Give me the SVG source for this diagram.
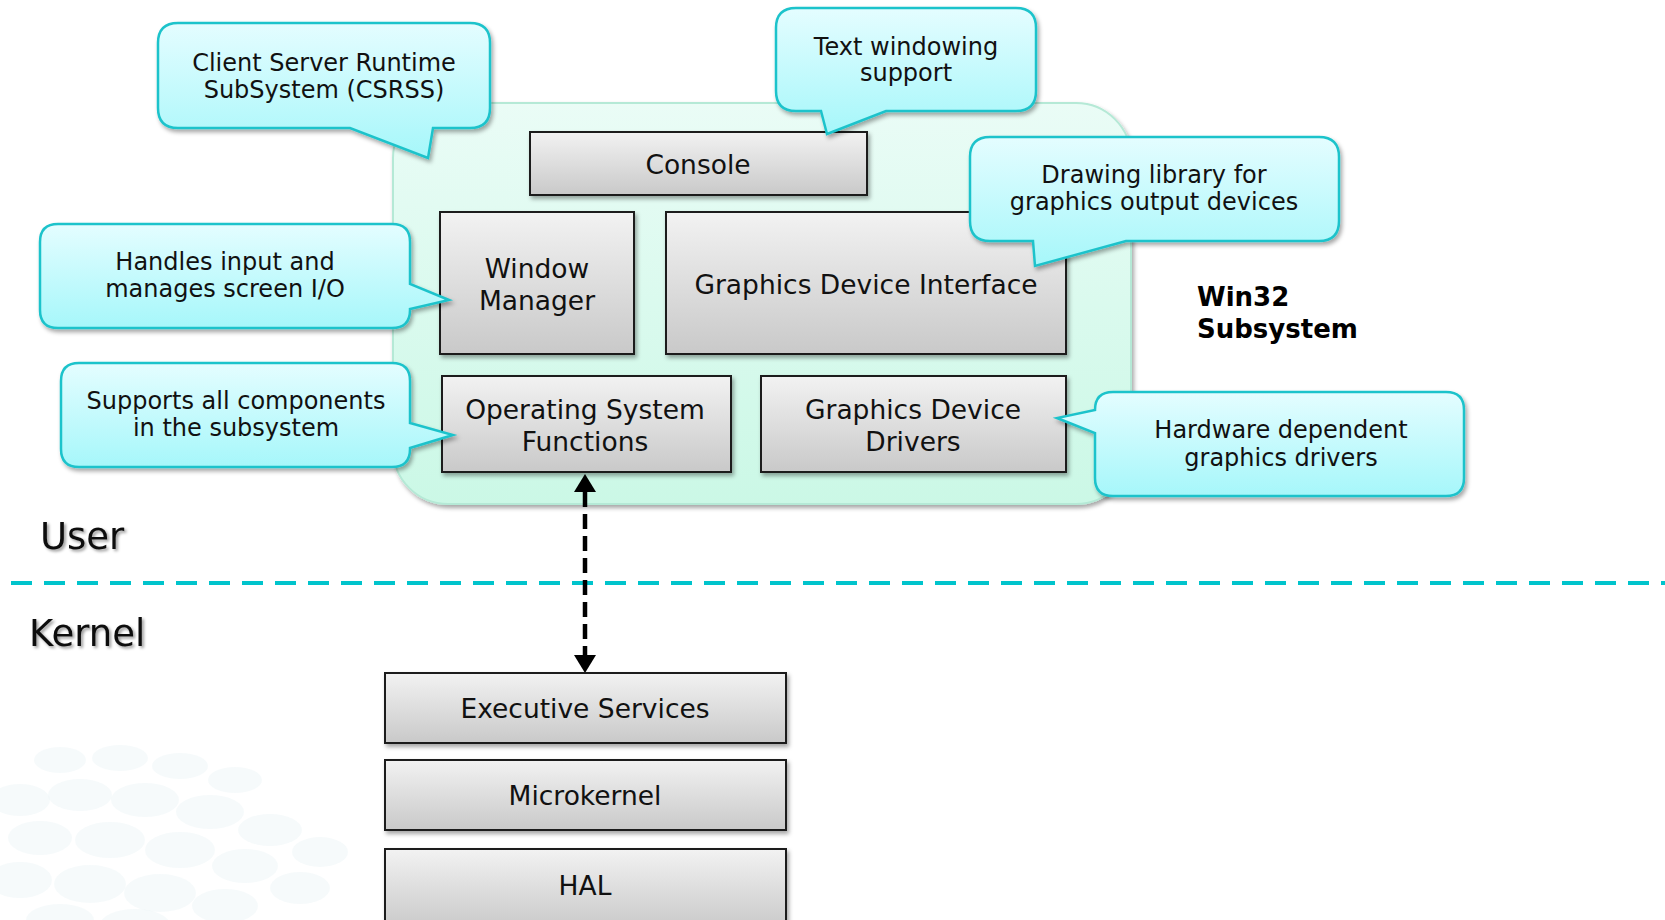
<svg xmlns="http://www.w3.org/2000/svg" width="1665" height="920" viewBox="0 0 1665 920">
<defs>
<linearGradient id="boxg" x1="0" y1="0" x2="0" y2="1"><stop offset="0" stop-color="#f2f2f2"/><stop offset="1" stop-color="#c9c9c9"/></linearGradient>
<linearGradient id="calg" x1="0" y1="0" x2="0" y2="1"><stop offset="0" stop-color="#e4fdff"/><stop offset="1" stop-color="#a6f7fa"/></linearGradient>
<linearGradient id="grng" x1="0" y1="0" x2="0" y2="1"><stop offset="0" stop-color="#eafcf6"/><stop offset="1" stop-color="#cbf8e6"/></linearGradient>
<filter id="sh" x="-10%" y="-10%" width="130%" height="140%"><feDropShadow dx="2" dy="3" stdDeviation="2" flood-color="#000" flood-opacity="0.35"/></filter>
<filter id="tsh" x="-10%" y="-10%" width="130%" height="140%"><feDropShadow dx="2" dy="2" stdDeviation="1.5" flood-color="#000" flood-opacity="0.4"/></filter>
<marker id="ah" viewBox="0 0 18 22" refX="0" refY="11" markerWidth="18" markerHeight="22" orient="auto-start-reverse" markerUnits="userSpaceOnUse"><path d="M0,0 L18,11 L0,22 Z" fill="#000"/></marker>
<style>
.box{fill:url(#boxg);stroke:#1a1a1a;stroke-width:2;filter:url(#sh)}
.cal{fill:url(#calg);stroke:#1ec3cb;stroke-width:2.5;filter:url(#sh)}
.bt{font-family:"DejaVu Sans",Verdana,sans-serif;font-size:26.5px;fill:#111;text-anchor:middle}
.ct{font-family:"DejaVu Sans",Verdana,sans-serif;font-size:24px;fill:#111;text-anchor:middle}
.lbl{font-family:"DejaVu Sans",Verdana,sans-serif;font-size:37px;fill:#111;filter:url(#tsh)}
.win{font-family:"DejaVu Sans",Verdana,sans-serif;font-size:26px;font-weight:bold;fill:#000}
.bg{fill:#e8f2f5;opacity:0.4}
</style>
</defs>
<rect width="1665" height="920" fill="#fff"/>
<g id="background">
<ellipse class="bg" cx="20" cy="800" rx="30" ry="16"/>
<ellipse class="bg" cx="80" cy="795" rx="32" ry="16"/>
<ellipse class="bg" cx="145" cy="800" rx="34" ry="17"/>
<ellipse class="bg" cx="210" cy="812" rx="34" ry="17"/>
<ellipse class="bg" cx="270" cy="830" rx="32" ry="16"/>
<ellipse class="bg" cx="320" cy="852" rx="28" ry="15"/>
<ellipse class="bg" cx="40" cy="838" rx="32" ry="17"/>
<ellipse class="bg" cx="110" cy="840" rx="35" ry="18"/>
<ellipse class="bg" cx="180" cy="850" rx="35" ry="18"/>
<ellipse class="bg" cx="245" cy="866" rx="33" ry="17"/>
<ellipse class="bg" cx="300" cy="888" rx="30" ry="16"/>
<ellipse class="bg" cx="20" cy="880" rx="32" ry="18"/>
<ellipse class="bg" cx="90" cy="884" rx="36" ry="19"/>
<ellipse class="bg" cx="160" cy="893" rx="36" ry="19"/>
<ellipse class="bg" cx="225" cy="906" rx="33" ry="17"/>
<ellipse class="bg" cx="60" cy="920" rx="34" ry="16"/>
<ellipse class="bg" cx="135" cy="925" rx="35" ry="16"/>
<ellipse class="bg" cx="60" cy="760" rx="26" ry="13"/>
<ellipse class="bg" cx="120" cy="758" rx="28" ry="13"/>
<ellipse class="bg" cx="180" cy="766" rx="28" ry="13"/>
<ellipse class="bg" cx="235" cy="780" rx="27" ry="13"/>
</g>
<g id="win32-container">
<rect x="393" y="103" width="738" height="401" rx="55" ry="55" fill="url(#grng)" stroke="#b5e9d6" stroke-width="2" filter="url(#sh)"/>
<text class="win" x="1197" y="306">Win32</text>
<text class="win" x="1197" y="338">Subsystem</text>
</g>
<g id="divider">
<line x1="11" y1="583" x2="1665" y2="583" stroke="#00c4cc" stroke-width="4" stroke-dasharray="21 12"/>
<text class="lbl" x="40" y="549">User</text>
<text class="lbl" x="29" y="646">Kernel</text>
</g>
<g id="connectors">
<line x1="585" y1="492" x2="585" y2="655" stroke="#000" stroke-width="4.5" stroke-dasharray="15 7" marker-start="url(#ah)" marker-end="url(#ah)"/>
</g>
<g id="console"><rect class="box" x="530" y="132" width="337" height="63"/><text class="bt" x="698" y="174">Console</text></g>
<g id="window-manager"><rect class="box" x="440" y="212" width="194" height="142"/><text class="bt" x="537" y="278">Window</text><text class="bt" x="537" y="310">Manager</text></g>
<g id="gdi"><rect class="box" x="666" y="212" width="400" height="142"/><text class="bt" x="866" y="294">Graphics Device Interface</text></g>
<g id="os-functions"><rect class="box" x="442" y="376" width="289" height="96"/><text class="bt" x="585" y="419">Operating System</text><text class="bt" x="585" y="451">Functions</text></g>
<g id="gdd"><rect class="box" x="761" y="376" width="305" height="96"/><text class="bt" x="913" y="419">Graphics Device</text><text class="bt" x="913" y="451">Drivers</text></g>
<g id="executive-services"><rect class="box" x="385" y="673" width="401" height="70"/><text class="bt" x="585" y="718">Executive Services</text></g>
<g id="microkernel"><rect class="box" x="385" y="760" width="401" height="70"/><text class="bt" x="585" y="805">Microkernel</text></g>
<g id="hal"><rect class="box" x="385" y="849" width="401" height="80"/><text class="bt" x="585" y="895">HAL</text></g>
<g id="callout-csrss"><path class="cal" d="M178,23 H470 Q490,23 490,43 V108 Q490,128 470,128 H433 L428,158 L350,128 H178 Q158,128 158,108 V43 Q158,23 178,23 Z"/><text class="ct" x="324" y="71">Client Server Runtime</text><text class="ct" x="324" y="98">SubSystem (CSRSS)</text></g>
<g id="callout-console"><path class="cal" d="M796,8 H1016 Q1036,8 1036,28 V91 Q1036,111 1016,111 H886 L827,134 L821,111 H796 Q776,111 776,91 V28 Q776,8 796,8 Z"/><text class="ct" x="906" y="55">Text windowing</text><text class="ct" x="906" y="81">support</text></g>
<g id="callout-gdi"><path class="cal" d="M990,137 H1319 Q1339,137 1339,157 V221 Q1339,241 1319,241 H1126 L1035,266 L1033,241 H990 Q970,241 970,221 V157 Q970,137 990,137 Z"/><text class="ct" x="1154" y="183">Drawing library for</text><text class="ct" x="1154" y="210">graphics output devices</text></g>
<g id="callout-wm"><path class="cal" d="M58,224 H392 Q410,224 410,242 V284 L449,300 L410,309 V310 Q410,328 392,328 H58 Q40,328 40,310 V242 Q40,224 58,224 Z"/><text class="ct" x="225" y="270">Handles input and</text><text class="ct" x="225" y="297">manages screen I/O</text></g>
<g id="callout-osf"><path class="cal" d="M79,363 H392 Q410,363 410,381 V423 L453,435 L410,448 V449 Q410,467 392,467 H79 Q61,467 61,449 V381 Q61,363 79,363 Z"/><text class="ct" x="236" y="409">Supports all components</text><text class="ct" x="236" y="436">in the subsystem</text></g>
<g id="callout-gdd"><path class="cal" d="M1113,392 H1446 Q1464,392 1464,410 V478 Q1464,496 1446,496 H1113 Q1095,496 1095,478 V433 L1057,418 L1095,410 Q1095,392 1113,392 Z"/><text class="ct" x="1281" y="438">Hardware dependent</text><text class="ct" x="1281" y="466">graphics drivers</text></g>
</svg>
